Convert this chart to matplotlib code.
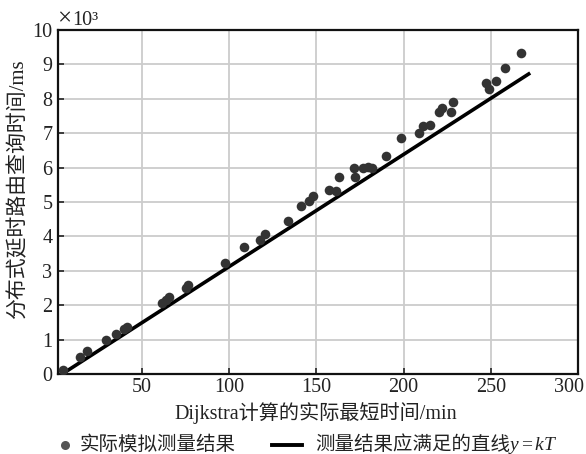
import matplotlib
matplotlib.use("Agg")
import matplotlib.pyplot as plt
from matplotlib.lines import Line2D
from matplotlib.transforms import ScaledTranslation

plt.rcParams['font.family'] = ['Liberation Serif', 'Noto Sans CJK SC']
plt.rcParams['mathtext.fontset'] = 'custom'
plt.rcParams['mathtext.it'] = 'Liberation Serif:italic'
plt.rcParams['mathtext.rm'] = 'Liberation Serif'

# measured points (x: minutes, y: ms x1e3)
meas_x = [4.6, 14.7, 18.9, 29.5, 35.2, 40.0, 41.5, 61.4, 63.9, 65.8, 75.3, 76.7,
          97.7, 108.4, 117.9, 120.6, 133.6, 141.3, 146.0, 147.9, 157.5, 161.3, 163.2,
          171.4, 172.2, 177.0, 179.5, 182.0, 190.0, 198.6, 208.7, 211.0, 215.4,
          220.6, 222.1, 227.3, 228.6, 247.0, 248.9, 253.1, 258.4, 267.4]
meas_y = [0.12, 0.48, 0.66, 1.00, 1.17, 1.31, 1.38, 2.06, 2.16, 2.25, 2.50, 2.59,
          3.22, 3.69, 3.90, 4.07, 4.46, 4.89, 5.04, 5.16, 5.35, 5.33, 5.74,
          5.98, 5.74, 6.00, 6.01, 6.00, 6.35, 6.87, 7.00, 7.22, 7.24,
          7.61, 7.74, 7.61, 7.92, 8.45, 8.29, 8.53, 8.89, 9.32]
# fitted line y = kT
line_x = [4.4, 272.6]
line_y = [0.0, 8.75]

xticks = [50, 100, 150, 200, 250, 300]
yticks = list(range(0, 11))

W, H = 586, 454
fig = plt.figure(figsize=(W / 100, H / 100), dpi=100)
ax = fig.add_axes([58 / W, 1 - 374 / H, (578 - 58) / W, (374 - 30) / H])

ax.grid(True, color='#cccccc', linewidth=1.3, zorder=0)
ax.plot(line_x, line_y, color='black', linewidth=2.6, zorder=3, solid_capstyle='butt')
ax.scatter(meas_x, meas_y, s=48, color='#333333', zorder=4, linewidths=0)

ax.set_xlim(2, 300)
ax.set_ylim(0, 10)
ax.set_xticks(xticks)
ax.set_yticks(yticks)
ax.tick_params(direction='in', labelsize=14.5, length=4, width=1.2, pad=3,
               colors='#222222', labelcolor='#222222')
ax.tick_params(axis='y', pad=4)
for s in ax.spines.values():
    s.set_linewidth(1.6)
    s.set_color('#111111')

# keep last x tick label inside the figure (as in the reference)
fig.canvas.draw()
last = ax.get_xticklabels()[-1]
last.set_transform(last.get_transform() + ScaledTranslation(-9 / 100, 0, fig.dpi_scale_trans))

# axis labels
fig.text(316 / W, 1 - 413 / H, 'Dijkstra计算的实际最短时间/min', fontsize=14.5,
         ha='center', va='center', color='#222222')
fig.text(18 / W, 1 - 189 / H, '分布式延时路由查询时间/ms', fontsize=15,
         ha='center', va='center', rotation=90, color='#222222')
fig.text(57 / W, 1 - 25 / H, '×', fontsize=18, ha='left', va='baseline', color='#222222')
fig.text(72 / W, 1 - 25 / H, '10³', fontsize=14.5, ha='left', va='baseline', color='#222222')

# legend (drawn in figure coordinates)
ly = 1 - 445 / H
fig.add_artist(Line2D([65 / W], [ly], marker='o', linestyle='none', color='#555555',
                      markersize=6.5, markeredgewidth=0, transform=fig.transFigure))
fig.text(80 / W, ly, '实际模拟测量结果', fontsize=14, ha='left', va='center', color='#222222')
fig.add_artist(Line2D([272 / W, 302 / W], [ly, ly], color='black', linewidth=2.8,
                      transform=fig.transFigure))
t1 = fig.text(315 / W, ly, '测量结果应满足的直线', fontsize=14, ha='left', va='center',
              color='#222222')
ax.annotate(r'$y\mathrm{=}kT$', xy=(1.0, 0.5), xycoords=t1, xytext=(-1.5, 0),
            textcoords='offset points', ha='left', va='center',
            fontsize=14, color='#222222', annotation_clip=False)

fig.savefig('out.png', dpi=100, facecolor='white')
